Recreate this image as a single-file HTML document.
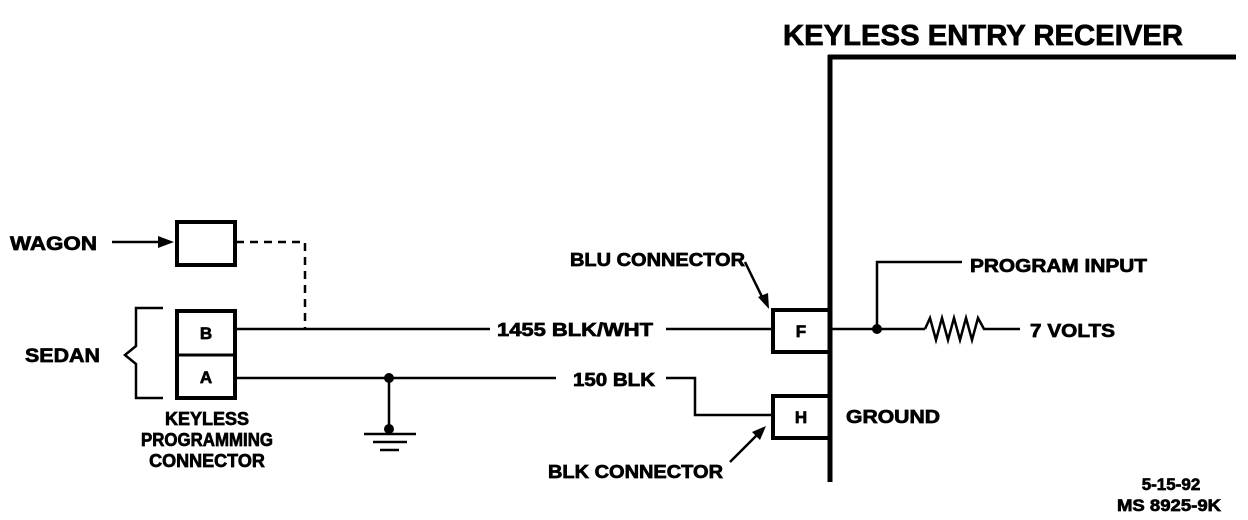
<!DOCTYPE html>
<html><head><meta charset="utf-8"><style>
html,body{margin:0;padding:0;background:#fff;}
svg{display:block}
text{font-family:"Liberation Sans",sans-serif;font-weight:bold;fill:#000;stroke:#000;stroke-width:0.7px;}
</style></head><body>
<svg width="1248" height="520" viewBox="0 0 1248 520" xmlns="http://www.w3.org/2000/svg">
<g stroke="#000" fill="none">
<line x1="830" y1="55" x2="830" y2="482" stroke-width="5"/>
<line x1="828" y1="57" x2="1236" y2="57" stroke-width="5"/>
<rect x="773" y="310" width="57" height="42" stroke-width="4"/>
<rect x="773" y="396" width="57" height="42" stroke-width="4"/>
<rect x="177" y="222" width="58" height="43" stroke-width="4"/>
<rect x="177" y="311" width="58" height="87" stroke-width="4"/>
<line x1="177" y1="355" x2="235" y2="355" stroke-width="3"/>
<line x1="236" y1="329" x2="490" y2="329" stroke-width="2.5"/>
<line x1="666" y1="329" x2="773" y2="329" stroke-width="2.5"/>
<line x1="236" y1="378" x2="556" y2="378" stroke-width="2.5"/>
<polyline points="666,378 695,378 695,415 773,415" stroke-width="2.5"/>
<polyline points="236,242 305,242 305,329" stroke-width="2.5" stroke-dasharray="8,6"/>
<line x1="389" y1="378" x2="389" y2="430" stroke-width="2.5"/>
<line x1="364" y1="434" x2="416" y2="434" stroke-width="2.5"/>
<line x1="373" y1="442" x2="407" y2="442" stroke-width="2.5"/>
<line x1="380" y1="450" x2="399" y2="450" stroke-width="2.5"/>
<polyline points="163,308 136,308 136,346 125,355 136,364 136,398 163,398" stroke-width="2.5"/>
<line x1="112" y1="242" x2="160" y2="242" stroke-width="2.5"/>
<line x1="830" y1="329" x2="925" y2="329" stroke-width="2.5"/>
<polyline points="877,329 877,262 962,262" stroke-width="2.5"/>
<polyline points="925,329 930,318 936,340 942,318 948,340 954,318 960,340 966,318 972,340 978,318 984,329 1020,329" stroke-width="2.5"/>
<line x1="745" y1="262" x2="765" y2="303" stroke-width="2.5"/>
<line x1="730" y1="462" x2="760" y2="432" stroke-width="2.5"/>
</g>
<g fill="#000">
<polygon points="174,242 158,236 158,248"/>
<polygon points="769,309 758,297 768,293"/>
<polygon points="766,426 752,432 760,440"/>
<circle cx="389" cy="378" r="5"/>
<circle cx="389" cy="429" r="5"/>
<circle cx="877" cy="329" r="5"/>
</g>
<text x="783" y="45" font-size="29" textLength="400" lengthAdjust="spacingAndGlyphs">KEYLESS ENTRY RECEIVER</text>
<text x="10" y="250" font-size="19" textLength="87" lengthAdjust="spacingAndGlyphs">WAGON</text>
<text x="25" y="362" font-size="19" textLength="75" lengthAdjust="spacingAndGlyphs">SEDAN</text>
<text x="206" y="339" font-size="17" text-anchor="middle">B</text>
<text x="206" y="383" font-size="17" text-anchor="middle">A</text>
<text x="207" y="425" font-size="18" text-anchor="middle">KEYLESS</text>
<text x="207" y="446" font-size="18" text-anchor="middle" textLength="132" lengthAdjust="spacingAndGlyphs">PROGRAMMING</text>
<text x="207" y="467" font-size="18" text-anchor="middle">CONNECTOR</text>
<text x="497" y="336" font-size="18" textLength="156" lengthAdjust="spacingAndGlyphs">1455 BLK/WHT</text>
<text x="573" y="386" font-size="18" textLength="82" lengthAdjust="spacingAndGlyphs">150 BLK</text>
<text x="570" y="266" font-size="18" textLength="175" lengthAdjust="spacingAndGlyphs">BLU CONNECTOR</text>
<text x="548" y="478" font-size="18" textLength="175" lengthAdjust="spacingAndGlyphs">BLK CONNECTOR</text>
<text x="801" y="337" font-size="17" text-anchor="middle">F</text>
<text x="801" y="423" font-size="17" text-anchor="middle">H</text>
<text x="846" y="423" font-size="18" textLength="94" lengthAdjust="spacingAndGlyphs">GROUND</text>
<text x="970" y="272" font-size="18" textLength="177" lengthAdjust="spacingAndGlyphs">PROGRAM INPUT</text>
<text x="1030" y="337" font-size="18" textLength="85" lengthAdjust="spacingAndGlyphs">7 VOLTS</text>
<text x="1171" y="490" font-size="17" text-anchor="middle">5-15-92</text>
<text x="1169" y="511" font-size="17" text-anchor="middle" textLength="104" lengthAdjust="spacingAndGlyphs">MS 8925-9K</text>
</svg>
</body></html>
